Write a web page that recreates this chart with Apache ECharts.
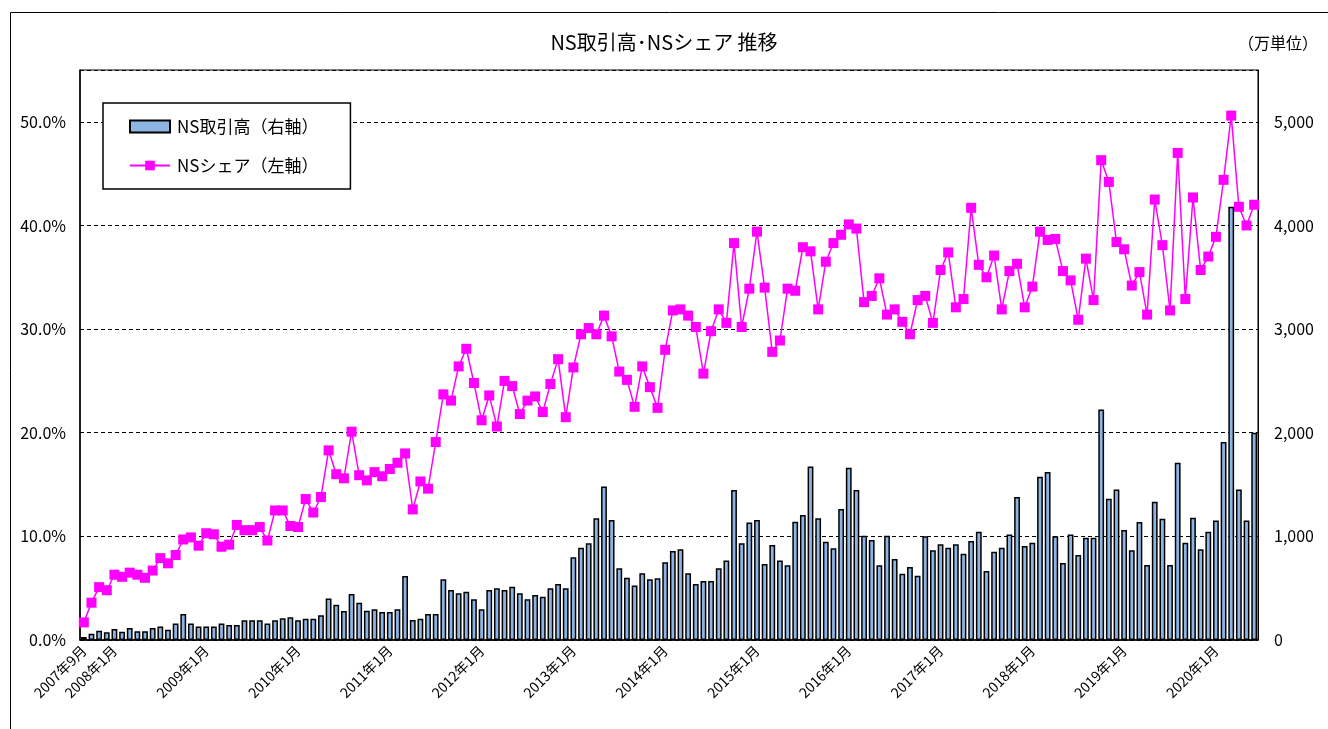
<!DOCTYPE html>
<html><head><meta charset="utf-8">
<script src="https://cdn.jsdelivr.net/npm/echarts@6/dist/echarts.min.js"></script>
<style>html,body{margin:0;padding:0;background:#fff}#c{width:1328px;height:729px}</style>
</head><body><div id="c"></div>
<script>
// Categories: monthly from 2007-09 to 2020-06
const startYear = 2007, startMonth = 9, monthCount = 154;
const categories = [];
for (let i = 0; i < monthCount; i++) {
  const m = startMonth - 1 + i;
  categories.push((startYear + Math.floor(m / 12)) + '年' + (m % 12 + 1) + '月');
}
// NS取引高 (万単位) - right axis
const volume = [
  30,60,90,75,105,80,115,85,85,115,
  130,100,160,250,160,130,130,130,160,145,
  145,190,190,190,160,190,210,220,190,205,
  205,240,400,340,280,445,360,283,297,270,
  270,297,618,193,206,251,251,586,483,450,
  466,392,297,483,499,483,515,450,392,434,
  418,499,541,499,798,891,933,1175,1480,1158,
  692,600,525,644,586,595,750,859,875,644,
  540,569,569,692,766,1448,933,1133,1158,734,
  917,766,721,1142,1206,1673,1174,949,885,1264,
  1663,1448,1007,965,721,1007,782,640,705,620,
  1000,865,923,891,923,833,955,1045,666,852,
  891,1019,1379,907,939,1576,1621,1000,743,1019,
  820,987,987,2225,1363,1453,1061,865,1138,723,
  1334,1170,723,1711,939,1180,875,1045,1154,1910,
  4180,1453,1154,2000
];
// NSシェア (%) - left axis
const share = [
  1.7,3.6,5.1,4.8,6.3,6.1,6.5,6.3,6.0,6.7,
  7.9,7.4,8.2,9.7,9.9,9.1,10.3,10.2,9.0,9.2,
  11.1,10.6,10.6,10.9,9.6,12.5,12.5,11.0,10.9,13.6,
  12.3,13.8,18.3,16.0,15.6,20.1,15.9,15.4,16.2,15.8,
  16.5,17.1,18.0,12.6,15.3,14.6,19.1,23.7,23.1,26.4,
  28.1,24.8,21.2,23.6,20.6,25.0,24.5,21.8,23.1,23.5,
  22.0,24.7,27.1,21.5,26.3,29.5,30.1,29.5,31.3,29.3,
  25.9,25.1,22.5,26.4,24.4,22.4,28.0,31.8,31.9,31.3,
  30.2,25.7,29.8,31.9,30.6,38.3,30.2,33.9,39.4,34.0,
  27.8,28.9,33.9,33.7,37.9,37.5,31.9,36.5,38.3,39.1,
  40.1,39.7,32.6,33.2,34.9,31.4,31.9,30.7,29.5,32.8,
  33.2,30.6,35.7,37.4,32.1,32.9,41.7,36.2,35.0,37.1,
  31.9,35.6,36.3,32.1,34.1,39.4,38.6,38.7,35.6,34.7,
  30.9,36.8,32.8,46.3,44.2,38.4,37.7,34.2,35.5,31.4,
  42.5,38.1,31.8,47.0,32.9,42.7,35.7,37.0,38.9,44.4,
  50.6,41.8,40.0,42.0
];
const leftTicks = [0, 10, 20, 30, 40, 50];     // labelled ticks (%)
const rightTicks = [0, 1000, 2000, 3000, 4000, 5000];
const leftMax = 55, rightMax = 5500;           // axis extent above last labelled tick

const FONT = '"Noto Sans CJK JP", "Noto Sans", sans-serif';
const chart = echarts.init(document.getElementById('c'), null, {renderer: 'canvas'});
chart.setOption({
  backgroundColor: '#fff',
  animation: false,
  textStyle: {fontFamily: FONT, color: '#000'},
  title: {
    text: 'NS取引高･NSシェア 推移',
    left: 'center', top: 27,
    textStyle: {fontFamily: FONT, fontSize: 20, fontWeight: 'normal', color: '#000'}
  },
  graphic: [
    {type: 'line', shape: {x1: 10.5, y1: 12.5, x2: 1328, y2: 12.5}, style: {stroke: '#000', lineWidth: 1}},
    {type: 'line', shape: {x1: 10.5, y1: 12.5, x2: 10.5, y2: 729}, style: {stroke: '#000', lineWidth: 1}},
    {type: 'text', left: 1238, top: 35, style: {text: '（万単位）', font: '16px ' + FONT, fill: '#000'}}
  ],
  legend: {
    left: 103, top: 103,
    orient: 'vertical',
    padding: [15, 32, 15, 26],
    itemGap: 22,
    itemWidth: 40, itemHeight: 12,
    borderColor: '#000', borderWidth: 1.5,
    backgroundColor: '#fff',
    textStyle: {fontFamily: FONT, fontSize: 17, color: '#000', padding: [0, 0, 0, 2]},
    data: [
      {name: 'NS取引高（右軸）', icon: 'rect'},
      {name: 'NSシェア（左軸）'}
    ]
  },
  grid: {left: 80, right: 70, top: 70, bottom: 89, show: true, borderColor: '#000', borderWidth: 1, backgroundColor: 'transparent'},
  xAxis: {
    type: 'category',
    data: categories,
    boundaryGap: true,
    axisLine: {lineStyle: {color: '#000', width: 1.5}},
    axisTick: {show: false},
    axisLabel: {
      rotate: 45, fontSize: 14, color: '#000', margin: 8, fontFamily: FONT,
      interval: (idx, val) => idx === 0 || /年1月$/.test(val)
    }
  },
  yAxis: [
    {
      type: 'value', min: leftTicks[0], max: leftMax, interval: 10,
      position: 'left',
      axisLine: {show: true, lineStyle: {color: '#000', width: 1.5}},
      axisTick: {show: false},
      axisLabel: {formatter: v => v.toFixed(1) + '%', fontSize: 16, color: '#000', margin: 14, fontFamily: FONT, showMaxLabel: false},
      splitLine: {show: true, lineStyle: {color: '#000', type: [4, 3], width: 1}}
    },
    {
      type: 'value', min: rightTicks[0], max: rightMax, interval: 1000,
      position: 'right',
      axisLine: {show: true, lineStyle: {color: '#000', width: 1}},
      axisTick: {show: false},
      axisLabel: {formatter: v => v.toLocaleString('en-US'), fontSize: 16, color: '#000', margin: 16, fontFamily: FONT, showMaxLabel: false},
      splitLine: {show: false}
    }
  ],
  series: [
    {
      name: 'NS取引高（右軸）', type: 'bar', yAxisIndex: 1,
      data: volume, barWidth: '76%',
      itemStyle: {color: '#8DB4E2', borderColor: '#000', borderWidth: 1.5},
      z: 2
    },
    {
      name: 'NSシェア（左軸）', type: 'line', yAxisIndex: 0,
      data: share,
      showAllSymbol: true,
      symbol: 'rect', symbolSize: 10,
      lineStyle: {color: '#FF00FF', width: 1.5},
      itemStyle: {color: '#FF00FF'},
      z: 3
    }
  ]
});
</script></body></html>
